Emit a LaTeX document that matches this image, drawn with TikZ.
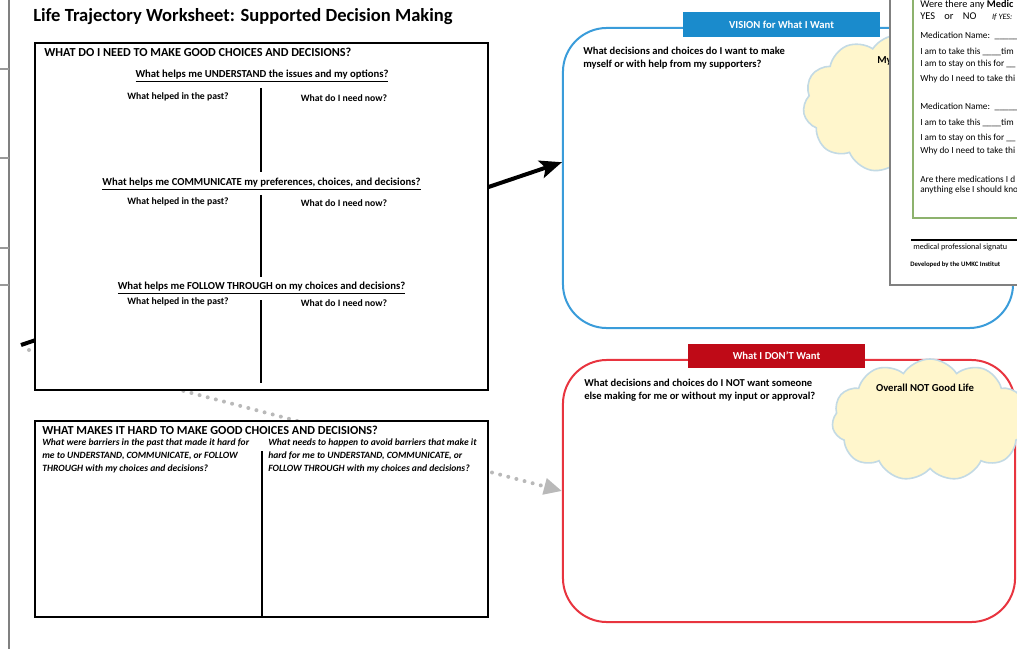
\documentclass[tikz,border=0pt]{standalone}
\usepackage{fontspec}
\setmainfont{Carlito}
\usetikzlibrary{arrows.meta,positioning,shapes.symbols}
\definecolor{visionblue}{HTML}{3A9CDA}
\definecolor{visionhead}{HTML}{1A8BCC}
\definecolor{dontred}{HTML}{E8343F}
\definecolor{donthead}{HTML}{BF0A17}
\definecolor{cloudfill}{HTML}{FFF6CC}
\definecolor{cloudline}{HTML}{C3DAE4}
\definecolor{medgreen}{HTML}{8DB26D}
\newcommand{\sizept}[1]{\fontsize{#1}{#1}\selectfont}
\tikzset{
  panel/.style={draw=black, line width=0.035cm, fill=white, minimum width=11.325cm, inner sep=0pt},
  bubble/.style={draw=#1, line width=0.05cm, fill=white, rounded corners=1.1cm, inner sep=0pt},
  headbar/.style={fill=#1, text=white, inner sep=0pt, font=\bfseries\sizept{7.6}},
  heading/.style={inner sep=0pt, anchor=west, font=\bfseries\sizept{8.7}},
  ask/.style={inner sep=0pt, font=\bfseries\sizept{7.6}},
  col/.style={inner sep=0pt, font=\bfseries\sizept{6.9}},
  prompt/.style={inner sep=0pt, anchor=west, align=left, font=\bfseries\fontsize{7.5}{9.2}\selectfont},
  barrier/.style={inner sep=0pt, anchor=west, align=left, font=\bfseries\itshape\fontsize{6.8}{9.2}\selectfont},
  medline/.style={inner sep=0pt, anchor=west, font=\sizept{6.6}},
  puff/.style={cloud, cloud puffs=11, cloud puff arc=115, cloud ignores aspect, draw=cloudline, fill=cloudfill, line width=0.04cm},
  divider/.style={line width=0.035cm},
}
\begin{document}
\begin{tikzpicture}[x=0.025cm, y=-0.025cm]
\useasboundingbox (0,0) rectangle (1017,649);
\begin{scope}
\clip (0,0) rectangle (1017,649);
% edge of the previous page
\draw[gray, line width=0.05cm] (9,0) -- (9,649);
\foreach \y in {69,158,248,285}
  \draw[gray!80, line width=0.03cm] (0,\y) -- (9,\y);
% connectors (drawn under the panels)
\coordinate (blackstart) at (21,345);
\coordinate (graystart) at (29,350);
\node[bubble=visionblue, minimum width=11.25cm, minimum height=7.5cm] (vision) at (788,178) {};
\node[bubble=dontred, minimum width=11.3cm, minimum height=6.55cm] (dont) at (789,491) {};
\draw[line width=0.1cm, -{Stealth[length=0.55cm, width=0.45cm, inset=0.12cm]}] (blackstart) -- (vision.176.5);
\draw[gray!55, line width=0.1cm, line cap=round, dash pattern=on 0pt off 0.21cm,
  -{Triangle[length=0.45cm, width=0.4cm]}] (graystart) -- (dont.180.8);
% what do I need
\node[panel, minimum height=8.675cm] (needbox) at (261.5,216.5) {};
\node[inner sep=0pt, anchor=west, font=\bfseries\sizept{13.2}] (title) at (33,17) {Life Trajectory Worksheet: Supported Decision Making};
\node[heading] (needhead) at (44,52) {WHAT DO I NEED TO MAKE GOOD CHOICES AND DECISIONS?};
\node[ask] (understand) at (262,76) {\underline{What helps me UNDERSTAND the issues and my options?}};
\node[ask] (communicate) at (261.5,184) {\underline{What helps me COMMUNICATE my preferences, choices, and decisions?}};
\node[ask] (follow) at (261.5,288) {\underline{What helps me FOLLOW THROUGH on my choices and decisions?}};
\foreach \y/\n/\top/\bot in {97/1/88/172, 202/2/195/277, 302/3/300/383}{
  \node[col] (past\n) at (178,\y) {What helped in the past?};
  \node[col] (now\n) at (344,\y+1) {What do I need now?};
  \draw[divider] (261,\top) -- (261,\bot);
}
% what makes it hard
\node[panel, minimum height=4.9cm] (hardbox) at (261.5,519) {};
\node[heading] (hardhead) at (42,430) {WHAT MAKES IT HARD TO MAKE GOOD CHOICES AND DECISIONS?};
\node[barrier] (hardpast) at (42,456) {What were barriers in the past that made it hard for\\me to UNDERSTAND, COMMUNICATE, or FOLLOW\\THROUGH with my choices and decisions?};
\node[barrier] (hardnow) at (268,456) {What needs to happen to avoid barriers that make it\\hard for me to UNDERSTAND, COMMUNICATE, or\\FOLLOW THROUGH with my choices and decisions?};
\draw[divider] (262,451) -- (262,617);
% vision
\node[headbar=visionhead, minimum width=4.925cm, minimum height=0.625cm] (visionhead) at (781.5,24.5) {VISION for What I Want};
\node[prompt] (visionq) at (583,58.5) {What decisions and choices do I want to make\\myself or with help from my supporters?};
\node[puff, minimum width=4.75cm, minimum height=3.45cm] (wantcloud) at (898,104) {};
\node[inner sep=0pt, anchor=west, font=\bfseries\sizept{7.6}] (wantlabel) at (877,61) {My};
% what I don't want
\node[headbar=donthead, minimum width=4.425cm, minimum height=0.6cm] (donthead) at (776.5,356) {What I DON'T Want};
\node[prompt] (dontq) at (584,390) {What decisions and choices do I NOT want someone\\else making for me or without my input or approval?};
\node[puff, minimum width=4.9cm, minimum height=3.05cm] (notcloud) at (930,420) {};
\node[inner sep=0pt, font=\bfseries\sizept{7.6}] (notlabel) at (925,388) {Overall NOT Good Life};
% medication sheet on top
\draw[fill=white, draw=gray, line width=0.05cm] (890,-20) rectangle (1040,285);
\draw[draw=medgreen, line width=0.04cm] (913,-10) rectangle (1040,218);
\node[medline, font=\sizept{7.3}] (medq) at (920,5) {Were there any \textbf{Medic}};
\node[medline, font=\sizept{7.4}] (yesno) at (920,17) {YES\hspace{0.9em}or\hspace{0.9em}NO\hspace{1.5em}{\itshape\sizept{5.8}If YES:}};
\foreach \y/\n in {36/1, 107/2}
  \node[medline] (medname\n) at (920,\y) {Medication Name:\hspace{0.5em}\_\_\_\_\_};
\foreach \y/\n in {52/1, 123/2}
  \node[medline] (medtimes\n) at (920,\y) {I am to take this \_\_\_\_tim};
\foreach \y/\n in {64/1, 138/2}
  \node[medline] (medstay\n) at (920,\y) {I am to stay on this for \_\_};
\foreach \y/\n in {79/1, 151/2}
  \node[medline] (medwhy\n) at (920,\y) {Why do I need to take thi};
\node[medline] (medother1) at (920,179) {Are there medications I d};
\node[medline] (medother2) at (920,190) {anything else I should kno};
\draw[line width=0.03cm] (911,240) -- (1020,240);
\node[medline, font=\sizept{5.8}] (medsign) at (913,247) {medical professional signatu};
\node[medline, font=\bfseries\sizept{4.8}] (medfoot) at (910,265) {Developed by the UMKC Institut};
\end{scope}
\end{tikzpicture}
\end{document}
